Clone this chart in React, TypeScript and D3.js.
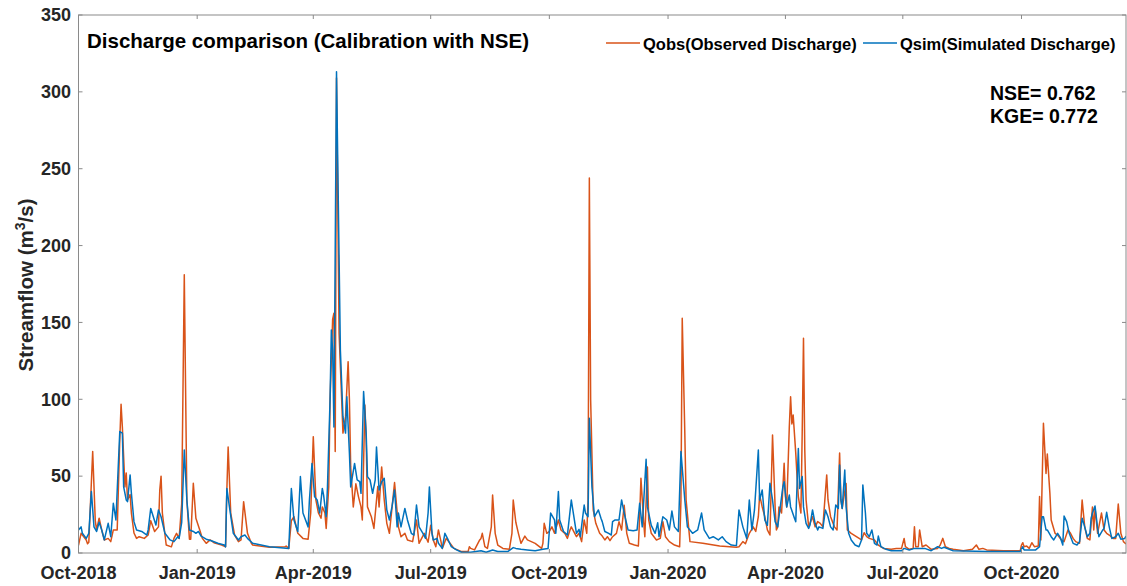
import React from "react";
import * as d3 from "d3";

const W = 1127;
const H = 586;

// Observed discharge (m3/s)
const qobs: [string, number][] = [
  ["2018-10-01", 5], ["2018-10-03", 12.8], ["2018-10-07", 8.5], ["2018-10-08", 6], ["2018-10-09", 7],
  ["2018-10-12", 66], ["2018-10-14", 21], ["2018-10-15", 15], ["2018-10-17", 22.6], ["2018-10-19", 15],
  ["2018-10-21", 8.5], ["2018-10-24", 9.5], ["2018-10-26", 7.4], ["2018-10-28", 15], ["2018-10-31", 15],
  ["2018-11-02", 73.5], ["2018-11-03", 96.7], ["2018-11-04", 82], ["2018-11-06", 43], ["2018-11-07", 52],
  ["2018-11-08", 34.5], ["2018-11-10", 38], ["2018-11-11", 26], ["2018-11-13", 13], ["2018-11-15", 9.5],
  ["2018-11-17", 10.6], ["2018-11-21", 9.5], ["2018-11-24", 11.7], ["2018-11-26", 21], ["2018-11-29", 14],
  ["2018-12-02", 17], ["2018-12-03", 41], ["2018-12-04", 50], ["2018-12-05", 26], ["2018-12-08", 5.2],
  ["2018-12-12", 4], ["2018-12-14", 9.5], ["2018-12-16", 12.8], ["2018-12-18", 9.5], ["2018-12-20", 32],
  ["2018-12-22", 181], ["2018-12-24", 34.5], ["2018-12-26", 9], ["2018-12-27", 9], ["2018-12-29", 45.3],
  ["2018-12-31", 22.6], ["2019-01-03", 15], ["2019-01-05", 9.5], ["2019-01-08", 6.3], ["2019-01-11", 8.5],
  ["2019-01-14", 6.7], ["2019-01-20", 5.2], ["2019-01-23", 4.1], ["2019-01-24", 41], ["2019-01-25", 69],
  ["2019-01-27", 26], ["2019-01-30", 11.7], ["2019-02-02", 7.4], ["2019-02-04", 8.5], ["2019-02-06", 33.4],
  ["2019-02-09", 12.8], ["2019-02-12", 6.3], ["2019-02-13", 5.2], ["2019-02-26", 3.7], ["2019-03-10", 4.1],
  ["2019-03-11", 4.5], ["2019-03-13", 3], ["2019-03-15", 21], ["2019-03-17", 23.6], ["2019-03-20", 12.8],
  ["2019-03-24", 9.5], ["2019-03-28", 9], ["2019-03-30", 26], ["2019-04-01", 75.7], ["2019-04-03", 34.5],
  ["2019-04-05", 26], ["2019-04-07", 22.6], ["2019-04-08", 30], ["2019-04-10", 26], ["2019-04-11", 16],
  ["2019-04-13", 43], ["2019-04-14", 99.6], ["2019-04-16", 152], ["2019-04-17", 156], ["2019-04-18", 66],
  ["2019-04-19", 309], ["2019-04-21", 143], ["2019-04-23", 100], ["2019-04-24", 78], ["2019-04-26", 88.7],
  ["2019-04-28", 124.5], ["2019-04-29", 100], ["2019-04-30", 56], ["2019-05-02", 30], ["2019-05-04", 45],
  ["2019-05-06", 36.7], ["2019-05-08", 30], ["2019-05-09", 21.5], ["2019-05-11", 96.3], ["2019-05-12", 73.5],
  ["2019-05-13", 30], ["2019-05-16", 23.6], ["2019-05-18", 16], ["2019-05-21", 43.2], ["2019-05-22", 30],
  ["2019-05-24", 56], ["2019-05-26", 34.5], ["2019-05-28", 19.3], ["2019-05-30", 12.8], ["2019-06-03", 45.8],
  ["2019-06-06", 17], ["2019-06-08", 10.6], ["2019-06-11", 12.8], ["2019-06-13", 8.5], ["2019-06-17", 7.4],
  ["2019-06-20", 21.5], ["2019-06-22", 6.3], ["2019-06-26", 12.8], ["2019-06-29", 7], ["2019-07-01", 18],
  ["2019-07-03", 8.5], ["2019-07-05", 4.1], ["2019-07-07", 15], ["2019-07-09", 7.4], ["2019-07-10", 3],
  ["2019-07-13", 9.5], ["2019-07-16", 6.3], ["2019-07-19", 3], ["2019-07-25", 0.9], ["2019-07-30", 0.9],
  ["2019-07-31", 4.1], ["2019-08-01", 3], ["2019-08-04", 2], ["2019-08-08", 8.5], ["2019-08-09", 9.5],
  ["2019-08-10", 12.8], ["2019-08-12", 4.1], ["2019-08-14", 3], ["2019-08-17", 17], ["2019-08-18", 37.7],
  ["2019-08-20", 12.8], ["2019-08-22", 5.2], ["2019-08-26", 3], ["2019-08-31", 2.4], ["2019-09-02", 12.8],
  ["2019-09-03", 34.5], ["2019-09-05", 20], ["2019-09-07", 12.8], ["2019-09-09", 6.3], ["2019-09-12", 11],
  ["2019-09-14", 8.5], ["2019-09-20", 6.3], ["2019-09-25", 3], ["2019-09-26", 6.3], ["2019-09-27", 19.3],
  ["2019-09-29", 12.8], ["2019-10-01", 14], ["2019-10-03", 17], ["2019-10-05", 12.8], ["2019-10-08", 21.5],
  ["2019-10-10", 15], ["2019-10-13", 12.8], ["2019-10-15", 9.5], ["2019-10-17", 15], ["2019-10-18", 17],
  ["2019-10-22", 10.6], ["2019-10-24", 12.8], ["2019-10-26", 7.4], ["2019-10-28", 21.5], ["2019-10-30", 12.8],
  ["2019-10-31", 34.5], ["2019-11-01", 244], ["2019-11-02", 100], ["2019-11-04", 28], ["2019-11-06", 19.3],
  ["2019-11-09", 12.8], ["2019-11-11", 11], ["2019-11-13", 8.5], ["2019-11-15", 10.6], ["2019-11-17", 8],
  ["2019-11-19", 10.6], ["2019-11-22", 12.8], ["2019-11-24", 20.4], ["2019-11-26", 15], ["2019-11-28", 31],
  ["2019-11-30", 12.8], ["2019-12-02", 6.3], ["2019-12-06", 5.2], ["2019-12-09", 4.5], ["2019-12-10", 23.6],
  ["2019-12-11", 48.6], ["2019-12-13", 21.5], ["2019-12-14", 10.6], ["2019-12-16", 56], ["2019-12-17", 21.5],
  ["2019-12-19", 12.8], ["2019-12-23", 8.5], ["2019-12-26", 9.5], ["2019-12-28", 20.4], ["2019-12-30", 10.6],
  ["2020-01-02", 7.4], ["2020-01-06", 5.2], ["2020-01-10", 4.1], ["2020-01-11", 34.5], ["2020-01-12", 152.7],
  ["2020-01-14", 78], ["2020-01-15", 34.5], ["2020-01-18", 7.4], ["2020-01-28", 6.3], ["2020-02-10", 4.5],
  ["2020-02-23", 3.7], ["2020-02-25", 4.1], ["2020-02-28", 7.4], ["2020-03-01", 6], ["2020-03-04", 12.8],
  ["2020-03-07", 17], ["2020-03-09", 14], ["2020-03-11", 23.6], ["2020-03-12", 37.7], ["2020-03-14", 30],
  ["2020-03-16", 23.6], ["2020-03-18", 15], ["2020-03-20", 11.7], ["2020-03-22", 76.8], ["2020-03-24", 30],
  ["2020-03-25", 15], ["2020-03-26", 17], ["2020-03-27", 30], ["2020-03-29", 26], ["2020-03-31", 58.4],
  ["2020-04-01", 36.7], ["2020-04-02", 30], ["2020-04-04", 82], ["2020-04-05", 101.7], ["2020-04-06", 84],
  ["2020-04-07", 89.8], ["2020-04-09", 65], ["2020-04-10", 49.7], ["2020-04-11", 36.7], ["2020-04-13", 26],
  ["2020-04-14", 78], ["2020-04-15", 139.7], ["2020-04-16", 67], ["2020-04-17", 34.5], ["2020-04-19", 17],
  ["2020-04-21", 21.5], ["2020-04-22", 23.6], ["2020-04-24", 17], ["2020-04-26", 20.4], ["2020-04-28", 19.3],
  ["2020-04-30", 17], ["2020-05-03", 50.8], ["2020-05-04", 34.5], ["2020-05-06", 23.6], ["2020-05-09", 17],
  ["2020-05-11", 15], ["2020-05-13", 65], ["2020-05-14", 34.5], ["2020-05-15", 29], ["2020-05-18", 45.3],
  ["2020-05-19", 15], ["2020-05-22", 12.8], ["2020-05-26", 10.6], ["2020-05-30", 8.5], ["2020-06-01", 13.2],
  ["2020-06-03", 10.6], ["2020-06-05", 9.5], ["2020-06-09", 8.5], ["2020-06-12", 5.2], ["2020-06-16", 3],
  ["2020-06-22", 2.4], ["2020-06-26", 3], ["2020-06-30", 3], ["2020-07-02", 9.5], ["2020-07-03", 4.1],
  ["2020-07-06", 2.4], ["2020-07-09", 3], ["2020-07-10", 17], ["2020-07-11", 4.1], ["2020-07-13", 4.1],
  ["2020-07-14", 15], ["2020-07-16", 4.1], ["2020-07-19", 5.2], ["2020-07-23", 2.4], ["2020-07-28", 3],
  ["2020-07-30", 5.2], ["2020-08-01", 9.5], ["2020-08-03", 4.1], ["2020-08-06", 3], ["2020-08-09", 2.4],
  ["2020-08-17", 1.5], ["2020-08-24", 2.4], ["2020-08-27", 5.2], ["2020-08-29", 2.4], ["2020-09-01", 3],
  ["2020-09-04", 2], ["2020-09-17", 1.5], ["2020-09-30", 1.5], ["2020-10-01", 5.2], ["2020-10-02", 6.7],
  ["2020-10-03", 4.1], ["2020-10-05", 4.5], ["2020-10-07", 3], ["2020-10-09", 6.7], ["2020-10-11", 4.1],
  ["2020-10-14", 4.5], ["2020-10-15", 36.7], ["2020-10-16", 8.5], ["2020-10-18", 84.4], ["2020-10-20", 51.8],
  ["2020-10-21", 64.4], ["2020-10-23", 38.8], ["2020-10-24", 21.5], ["2020-10-27", 12.8], ["2020-10-29", 11.7],
  ["2020-11-01", 8.5], ["2020-11-03", 7.4], ["2020-11-06", 15], ["2020-11-08", 12.8], ["2020-11-10", 9.5],
  ["2020-11-12", 7.4], ["2020-11-15", 6.3], ["2020-11-17", 34.5], ["2020-11-19", 17], ["2020-11-21", 9.5],
  ["2020-11-23", 8.5], ["2020-11-25", 30], ["2020-11-26", 15], ["2020-11-27", 29], ["2020-11-29", 12.8],
  ["2020-12-02", 26], ["2020-12-04", 15], ["2020-12-06", 12.8], ["2020-12-08", 11.7], ["2020-12-11", 9.5],
  ["2020-12-13", 9.5], ["2020-12-15", 31.9], ["2020-12-17", 12.8], ["2020-12-19", 7.4], ["2020-12-21", 5.9],
];

// Simulated discharge (m3/s)
const qsim: [string, number][] = [
  ["2018-10-01", 15], ["2018-10-03", 17], ["2018-10-04", 12.8], ["2018-10-07", 9.5], ["2018-10-09", 12.8],
  ["2018-10-11", 40], ["2018-10-13", 17], ["2018-10-15", 14], ["2018-10-17", 20], ["2018-10-19", 15],
  ["2018-10-21", 8.5], ["2018-10-24", 19.3], ["2018-10-26", 10.6], ["2018-10-28", 32.3], ["2018-10-30", 21.5],
  ["2018-11-02", 79], ["2018-11-04", 78], ["2018-11-05", 43], ["2018-11-07", 34.5], ["2018-11-08", 33.4],
  ["2018-11-10", 50.8], ["2018-11-11", 38.8], ["2018-11-13", 20.4], ["2018-11-15", 15], ["2018-11-19", 14],
  ["2018-11-23", 11.7], ["2018-11-24", 15], ["2018-11-26", 29], ["2018-11-28", 23.6], ["2018-11-30", 18.2],
  ["2018-12-02", 28], ["2018-12-04", 23.6], ["2018-12-07", 12.8], ["2018-12-11", 8.5], ["2018-12-14", 7.4],
  ["2018-12-17", 10.6], ["2018-12-18", 9.5], ["2018-12-20", 20], ["2018-12-22", 67], ["2018-12-24", 34.5],
  ["2018-12-26", 15], ["2018-12-29", 14], ["2018-12-31", 12.8], ["2019-01-02", 14], ["2019-01-04", 11],
  ["2019-01-08", 9], ["2019-01-12", 8], ["2019-01-17", 6.3], ["2019-01-22", 5.2], ["2019-01-23", 4],
  ["2019-01-24", 42], ["2019-01-26", 30], ["2019-01-29", 12.8], ["2019-02-02", 8.5], ["2019-02-04", 10.6],
  ["2019-02-07", 11.7], ["2019-02-09", 9.5], ["2019-02-13", 6.3], ["2019-02-26", 4.1], ["2019-03-13", 3],
  ["2019-03-15", 42], ["2019-03-17", 21.5], ["2019-03-20", 14], ["2019-03-22", 49.7], ["2019-03-24", 26],
  ["2019-03-28", 17], ["2019-03-29", 34.5], ["2019-03-31", 58.3], ["2019-04-02", 36.7], ["2019-04-04", 34.5],
  ["2019-04-06", 26], ["2019-04-08", 42], ["2019-04-09", 37.7], ["2019-04-11", 23.6], ["2019-04-12", 43],
  ["2019-04-14", 99.6], ["2019-04-15", 145], ["2019-04-16", 132], ["2019-04-17", 82], ["2019-04-19", 313],
  ["2019-04-22", 132], ["2019-04-24", 88.7], ["2019-04-26", 78], ["2019-04-27", 101.7], ["2019-04-29", 65],
  ["2019-04-30", 43], ["2019-05-03", 58.3], ["2019-05-05", 47.5], ["2019-05-07", 46.4], ["2019-05-08", 38.8],
  ["2019-05-10", 105], ["2019-05-12", 78], ["2019-05-13", 49.7], ["2019-05-15", 47.5], ["2019-05-17", 38.8],
  ["2019-05-19", 47.5], ["2019-05-20", 69], ["2019-05-22", 41], ["2019-05-24", 46.4], ["2019-05-26", 48.6],
  ["2019-05-28", 28], ["2019-05-30", 21.5], ["2019-06-01", 30], ["2019-06-03", 41], ["2019-06-05", 17],
  ["2019-06-06", 26], ["2019-06-08", 17], ["2019-06-11", 29], ["2019-06-13", 21.5], ["2019-06-16", 12.8],
  ["2019-06-18", 11.7], ["2019-06-20", 31.2], ["2019-06-22", 17], ["2019-06-25", 12.8], ["2019-06-27", 9.5],
  ["2019-06-29", 26], ["2019-06-30", 43], ["2019-07-02", 12.8], ["2019-07-03", 8.5], ["2019-07-06", 9.5],
  ["2019-07-07", 6.3], ["2019-07-10", 3], ["2019-07-12", 12.8], ["2019-07-14", 9.5], ["2019-07-17", 4.1],
  ["2019-07-21", 2], ["2019-07-25", 0.5], ["2019-08-01", 0.5], ["2019-08-09", 1.5], ["2019-08-13", 0.5],
  ["2019-08-18", 2], ["2019-08-22", 1], ["2019-08-30", 1], ["2019-09-03", 3.5], ["2019-09-05", 3],
  ["2019-09-09", 2.4], ["2019-09-14", 2], ["2019-09-20", 1.5], ["2019-09-26", 2.4], ["2019-09-30", 3],
  ["2019-10-02", 26], ["2019-10-05", 21.5], ["2019-10-06", 12.8], ["2019-10-08", 40], ["2019-10-09", 21.5],
  ["2019-10-12", 14], ["2019-10-15", 11.7], ["2019-10-18", 34.5], ["2019-10-20", 23.6], ["2019-10-22", 12.8],
  ["2019-10-24", 15.4], ["2019-10-25", 10.6], ["2019-10-28", 31.2], ["2019-10-29", 26], ["2019-10-31", 23.6],
  ["2019-11-01", 87.6], ["2019-11-03", 43], ["2019-11-05", 23.6], ["2019-11-08", 28], ["2019-11-10", 22.6],
  ["2019-11-11", 20.4], ["2019-11-13", 14], ["2019-11-16", 12.8], ["2019-11-18", 11.7], ["2019-11-19", 20.4],
  ["2019-11-21", 21.5], ["2019-11-24", 21.5], ["2019-11-26", 34.5], ["2019-11-28", 26], ["2019-12-01", 15],
  ["2019-12-05", 14.5], ["2019-12-08", 15], ["2019-12-10", 32.3], ["2019-12-12", 17], ["2019-12-15", 61],
  ["2019-12-16", 30], ["2019-12-19", 18], ["2019-12-22", 12.8], ["2019-12-24", 19.7], ["2019-12-25", 10.6],
  ["2019-12-28", 23.6], ["2019-12-31", 21.5], ["2020-01-02", 15], ["2020-01-04", 27.3], ["2020-01-06", 17],
  ["2020-01-09", 14], ["2020-01-11", 66], ["2020-01-14", 34.5], ["2020-01-16", 17], ["2020-01-20", 12.8],
  ["2020-01-24", 15], ["2020-01-27", 26], ["2020-01-29", 15], ["2020-02-02", 9.5], ["2020-02-05", 10.6],
  ["2020-02-09", 8.5], ["2020-02-12", 10.6], ["2020-02-15", 7.4], ["2020-02-19", 5.2], ["2020-02-23", 4.8],
  ["2020-02-25", 28], ["2020-02-28", 17], ["2020-03-02", 9.5], ["2020-03-04", 34.5], ["2020-03-06", 15],
  ["2020-03-08", 28], ["2020-03-11", 67], ["2020-03-12", 34.5], ["2020-03-14", 41], ["2020-03-16", 21.5],
  ["2020-03-18", 18], ["2020-03-20", 45.3], ["2020-03-22", 34.5], ["2020-03-24", 20.4], ["2020-03-26", 17],
  ["2020-03-28", 30], ["2020-03-30", 43], ["2020-03-31", 46.4], ["2020-04-02", 30], ["2020-04-04", 37.7],
  ["2020-04-05", 30], ["2020-04-08", 22.6], ["2020-04-09", 20.4], ["2020-04-11", 68], ["2020-04-12", 42],
  ["2020-04-14", 49.7], ["2020-04-15", 30], ["2020-04-17", 19.3], ["2020-04-19", 16], ["2020-04-20", 18],
  ["2020-04-22", 28], ["2020-04-24", 19.3], ["2020-04-26", 15], ["2020-04-27", 17], ["2020-04-30", 16],
  ["2020-05-02", 28], ["2020-05-04", 23.6], ["2020-05-06", 17], ["2020-05-08", 15], ["2020-05-10", 31.2],
  ["2020-05-12", 29], ["2020-05-13", 57.3], ["2020-05-14", 34.5], ["2020-05-15", 29], ["2020-05-17", 54],
  ["2020-05-18", 30], ["2020-05-20", 12.8], ["2020-05-22", 8.5], ["2020-05-25", 5.2], ["2020-05-28", 4.1],
  ["2020-05-30", 8.5], ["2020-05-31", 44.3], ["2020-06-02", 26], ["2020-06-03", 12.8], ["2020-06-05", 10.6],
  ["2020-06-07", 15], ["2020-06-09", 6.3], ["2020-06-11", 5.2], ["2020-06-12", 11], ["2020-06-14", 4.1],
  ["2020-06-18", 2.4], ["2020-06-22", 1.5], ["2020-06-30", 1.5], ["2020-07-02", 3], ["2020-07-06", 2],
  ["2020-07-10", 3], ["2020-07-18", 3], ["2020-07-23", 1.5], ["2020-07-28", 4.1], ["2020-07-31", 3],
  ["2020-08-02", 3.7], ["2020-08-09", 1.5], ["2020-09-04", 1], ["2020-09-30", 1], ["2020-10-02", 4.1],
  ["2020-10-03", 2], ["2020-10-12", 2], ["2020-10-15", 4.1], ["2020-10-17", 23.6], ["2020-10-18", 23.6],
  ["2020-10-20", 15], ["2020-10-21", 15], ["2020-10-24", 10.6], ["2020-10-26", 8.5], ["2020-10-29", 12.8],
  ["2020-10-31", 10.2], ["2020-11-02", 5.2], ["2020-11-03", 24], ["2020-11-05", 20.4], ["2020-11-07", 12.8],
  ["2020-11-10", 6.3], ["2020-11-13", 5.2], ["2020-11-15", 7.4], ["2020-11-17", 22.6], ["2020-11-19", 17],
  ["2020-11-21", 10.6], ["2020-11-23", 12.8], ["2020-11-24", 22.6], ["2020-11-25", 26], ["2020-11-27", 30.6],
  ["2020-11-29", 16], ["2020-11-30", 10.6], ["2020-12-03", 15], ["2020-12-04", 16], ["2020-12-06", 26.5],
  ["2020-12-08", 17], ["2020-12-10", 9.5], ["2020-12-13", 10.6], ["2020-12-15", 12.8], ["2020-12-17", 9],
  ["2020-12-20", 9.5], ["2020-12-21", 11],
];

const xDomain = ["2018-10-01", "2020-12-21"];
const xTickDates = ["2018-10-01", "2019-01-01", "2019-04-01", "2019-07-01", "2019-10-01",
  "2020-01-01", "2020-04-01", "2020-07-01", "2020-10-01"];
const yTicks = [0, 50, 100, 150, 200, 250, 300, 350];
const titleText = "Discharge comparison (Calibration with NSE)";
const legendLabels = ["Qobs(Observed Discharge)", "Qsim(Simulated Discharge)"];
const statLabels = ["NSE= 0.762", "KGE= 0.772"];

const ORANGE = "#D95319";
const BLUE = "#0072BD";
const AXIS = "#8a8a8a";
const TXT = "#262626";
const FONT = "'Liberation Sans', Arial, Helvetica, sans-serif";

export default function App() {
  const parse = d3.utcParse("%Y-%m-%d");
  const L = 78.5, R = 1126, T = 15, B = 553;
  const x = d3.scaleUtc().domain(xDomain.map((s) => parse(s) as Date)).range([L, R]);
  const y = d3.scaleLinear().domain([0, 350]).range([B, T]);
  const line = d3
    .line<[string, number]>()
    .x((d) => x(parse(d[0]) as Date))
    .y((d) => y(d[1]));
  const tickLen = 4;
  const fmt = d3.utcFormat("%b-%Y");

  return (
    <svg
      width={W}
      height={H}
      style={{ position: "absolute", left: 0, top: 0, background: "#fff" }}
      fontFamily={FONT}
      fontWeight="bold"
    >
      <rect x={0} y={0} width={W} height={H} fill="#fff" />
      <defs>
        <clipPath id="plotclip">
          <rect x={L} y={T} width={R - L} height={B - T} />
        </clipPath>
      </defs>
      <g clipPath="url(#plotclip)">
        <path d={line(qobs) || ""} fill="none" stroke={ORANGE} strokeWidth={1.5} strokeLinejoin="round" />
        <path d={line(qsim) || ""} fill="none" stroke={BLUE} strokeWidth={1.5} strokeLinejoin="round" />
      </g>
      {/* box */}
      <rect x={L} y={T} width={R - L} height={B - T} fill="none" stroke={AXIS} strokeWidth={1} />
      {/* x ticks */}
      {xTickDates.map((s) => {
        const xx = x(parse(s) as Date);
        return (
          <g key={s}>
            <line x1={xx} x2={xx} y1={B} y2={B - tickLen} stroke={AXIS} />
            <line x1={xx} x2={xx} y1={T} y2={T + tickLen} stroke={AXIS} />
            <text x={xx} y={579} textAnchor="middle" fontSize={18} fill={TXT}>
              {fmt(parse(s) as Date)}
            </text>
          </g>
        );
      })}
      {/* y ticks */}
      {yTicks.map((v) => {
        const yy = y(v);
        return (
          <g key={v}>
            <line x1={L} x2={L + tickLen} y1={yy} y2={yy} stroke={AXIS} />
            <line x1={R} x2={R - tickLen} y1={yy} y2={yy} stroke={AXIS} />
            <text x={71} y={yy + 6.3} textAnchor="end" fontSize={18} fill={TXT}>
              {v}
            </text>
          </g>
        );
      })}
      {/* y label */}
      <text transform="translate(33,285) rotate(-90)" textAnchor="middle" fontSize={20.5} fill={TXT}>
        Streamflow (m<tspan dy={-8} fontSize={14}>3</tspan>
        <tspan dy={8}>/s)</tspan>
      </text>
      {/* title */}
      <text x={87} y={48} fontSize={20.5} fill="#000">
        {titleText}
      </text>
      {/* legend */}
      <line x1={606} x2={640} y1={43} y2={43} stroke={ORANGE} strokeWidth={1.5} />
      <text x={643} y={49.5} fontSize={16.5} fill="#000">
        {legendLabels[0]}
      </text>
      <line x1={863} x2={897} y1={43} y2={43} stroke={BLUE} strokeWidth={1.5} />
      <text x={900} y={49.5} fontSize={16.5} fill="#000">
        {legendLabels[1]}
      </text>
      {/* stats */}
      <text x={990} y={100} fontSize={19.5} fill="#000">
        {statLabels[0]}
      </text>
      <text x={990} y={123} fontSize={19.5} fill="#000">
        {statLabels[1]}
      </text>
    </svg>
  );
}
